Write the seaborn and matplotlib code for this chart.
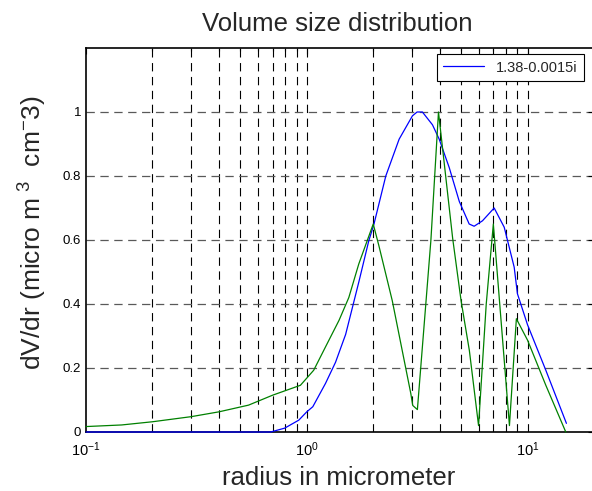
import numpy as np
import pandas as pd
import matplotlib
matplotlib.use('Agg')
import matplotlib.pyplot as plt
import seaborn as sns
from matplotlib.lines import Line2D

# radius (micrometer) and dV/dr values
blue_r = [0.1, 0.3, 0.5, 0.686, 0.794, 0.92, 1.0, 1.065, 1.216, 1.35, 1.5, 1.72,
          1.91, 2.016, 2.28, 2.62, 3.01, 3.16, 3.34, 3.71, 3.98, 4.42, 4.91, 5.44,
          5.73, 6.25, 7.06, 7.84, 8.12, 8.7, 9.0, 10.0, 12.1, 15.0]
blue_v = [0.0, 0.0, 0.0, 0.0, 0.012, 0.037, 0.063, 0.079, 0.152, 0.218, 0.305, 0.468,
          0.598, 0.65, 0.80, 0.915, 0.988, 1.0, 1.0, 0.96, 0.915, 0.826, 0.72, 0.65,
          0.643, 0.66, 0.70, 0.64, 0.598, 0.515, 0.432, 0.335, 0.193, 0.027]

green_r = [0.1, 0.145, 0.2, 0.3, 0.4, 0.545, 0.7, 0.936, 1.075, 1.216, 1.4, 1.55,
           1.72, 2.0, 2.12, 2.44, 2.96, 3.02, 3.17, 3.65, 3.95, 4.58, 5.0, 5.45,
           6.0, 6.5, 7.0, 8.28, 8.9, 10.0, 12.1, 14.9]
green_v = [0.017, 0.022, 0.032, 0.048, 0.063, 0.084, 0.115, 0.146, 0.193, 0.266, 0.349, 0.42,
           0.525, 0.65, 0.583, 0.41, 0.12, 0.083, 0.07, 0.60, 1.0, 0.605, 0.41, 0.255,
           0.02, 0.40, 0.65, 0.02, 0.354, 0.287, 0.146, 0.0]

legend_label = '1.38-0.0015i'
y_ticks = [0, 0.2, 0.4, 0.6, 0.8, 1.0]
y_tick_labels = ['0', '0.2', '0.4', '0.6', '0.8', '1']
grid_x = [0.2, 0.3, 0.4, 0.5, 0.6, 0.7, 0.8, 0.9, 1, 2, 3, 4, 5, 6, 7, 8, 9, 10]

sns.set_style('white')
plt.rcParams['font.family'] = ['Liberation Sans', 'DejaVu Sans']
plt.rcParams['mathtext.fontset'] = 'custom'
plt.rcParams['mathtext.rm'] = 'Liberation Sans'
plt.rcParams['mathtext.it'] = 'Liberation Sans:italic'
plt.rcParams['lines.scale_dashes'] = False

blue_df = pd.DataFrame({'radius': blue_r, 'dvdr': blue_v})
green_df = pd.DataFrame({'radius': green_r, 'dvdr': green_v})

fig = plt.figure(figsize=(5.92, 4.91), dpi=100)
ax = fig.add_axes([86 / 592, 59 / 491, 508 / 592, 384 / 491])
ax.set_xscale('log')

# dashed grid like the matlab export
for gx in grid_x:
    ax.axvline(gx, color='black', lw=0.8, ls=(0, (6, 4)), zorder=0)
for gy in y_ticks[1:]:
    ax.axhline(gy, color='0.35', lw=0.9, ls=(0, (6, 4)), zorder=0)

sns.lineplot(data=blue_df, x='radius', y='dvdr', color='#0000ff', lw=0.9,
             estimator=None, sort=False, ax=ax, clip_on=False, zorder=5)
sns.lineplot(data=green_df, x='radius', y='dvdr', color='#008000', lw=0.9,
             estimator=None, sort=False, ax=ax, clip_on=False, zorder=5)

ax.set_xlim(0.1, 20)
ax.set_ylim(0, 1.2)
ax.set_yticks(y_ticks)
ax.set_yticklabels(y_tick_labels)
ax.tick_params(which='both', direction='in', top=True, right=True,
               labelsize=9.5, colors='black')
ax.tick_params(axis='x', which='major', pad=6, labelsize=10.5)
ax.tick_params(which='major', length=4, width=0.8)
ax.tick_params(which='minor', length=2.5, width=0.8)
for sp in ax.spines.values():
    sp.set_color('black')
    sp.set_linewidth(1.2)
    sp.set_zorder(4)

ax.set_xlabel('radius in micrometer', fontsize=18.5)
ax.set_ylabel(r'dV/dr (micro m$^{\ 3}$  cm$^{-}$3)', fontsize=19)
ax.xaxis.set_label_coords(0.4976, -0.088)
ax.yaxis.set_label_coords(-0.072, 0.52)
fig.text(337 / 592, 1 - 31 / 491, 'Volume size distribution', fontsize=18.5,
         ha='center', va='baseline')

handle = Line2D([], [], color='#0000ff', lw=0.9)
leg = ax.legend([handle], [legend_label], loc='upper right',
                bbox_to_anchor=(584 / 592, 1 - 54 / 491),
                bbox_transform=fig.transFigure, borderaxespad=0,
                fancybox=False, framealpha=1, edgecolor='black',
                fontsize=10.5, handlelength=2.8, handletextpad=0.8,
                borderpad=0.45)
leg.get_frame().set_linewidth(0.8)

fig.savefig('out.png', dpi=100)
